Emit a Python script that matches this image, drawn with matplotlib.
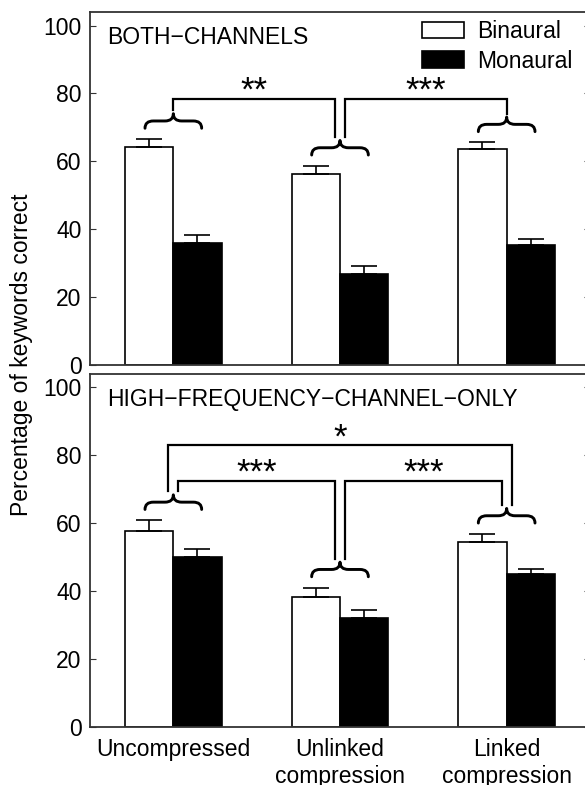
import numpy as np
import matplotlib
matplotlib.use("Agg")
import matplotlib.pyplot as plt
from matplotlib.path import Path
from matplotlib.patches import PathPatch

plt.rcParams['font.family'] = ['Liberation Sans', 'DejaVu Sans']
plt.rcParams['font.size'] = 16.5

# data
conditions = ['Uncompressed', 'Unlinked\ncompression', 'Linked\ncompression']
both_bin = [64.1, 56.3, 63.5]
both_bin_err = [2.4, 2.3, 2.0]
both_mon = [35.9, 26.7, 35.3]
both_mon_err = [2.2, 2.3, 1.8]
hf_bin = [57.8, 38.3, 54.4]
hf_bin_err = [3.0, 2.7, 2.4]
hf_mon = [49.9, 32.2, 44.9]
hf_mon_err = [2.5, 2.1, 1.7]

# significance brackets: (group a, group b, bracket height, stars)
both_sig = [(0, 1, 78.4, '**'), (1, 2, 78.4, '***')]
hf_sig = [(0, 2, 82.9, '*'), (0, 1, 72.4, '***'), (1, 2, 72.4, '***')]

x = np.arange(len(conditions))
w = 0.29


def brace(ax, xc, y0, half=0.17, r=0.05, h=4.3):
    ym = y0 + h * 0.5
    yt = y0 + h
    x0, x1 = xc - half, xc + half
    verts = [(x0, y0), (x0, ym), (x0 + r, ym), (xc - r, ym), (xc, ym), (xc, yt),
             (xc, ym), (xc + r, ym), (x1 - r, ym), (x1, ym), (x1, y0)]
    codes = [Path.MOVETO, Path.CURVE3, Path.CURVE3, Path.LINETO, Path.CURVE3, Path.CURVE3,
             Path.CURVE3, Path.CURVE3, Path.LINETO, Path.CURVE3, Path.CURVE3]
    ax.add_patch(PathPatch(Path(verts, codes), fill=False, lw=2.1, color='black',
                           capstyle='round', joinstyle='round'))
    return yt


def panel(ax, b, be, m, me, sig, title):
    ax.bar(x - w / 2, b, w, color='white', edgecolor='black', lw=1.2, label='Binaural')
    ax.bar(x + w / 2, m, w, color='black', edgecolor='black', lw=1.2, label='Monaural')
    ax.errorbar(x - w / 2, b, yerr=[np.zeros(3), be], fmt='none', ecolor='black',
                elinewidth=1.2, capsize=9.5, capthick=1.2)
    ax.errorbar(x + w / 2, m, yerr=[np.zeros(3), me], fmt='none', ecolor='black',
                elinewidth=1.2, capsize=9.5, capthick=1.2)
    tops = np.maximum(np.array(b) + be, np.array(m) + me)
    tips = [brace(ax, x[i], tops[i] + 3.2) for i in range(len(x))]

    # where the bracket legs sit on each group
    attach = {}
    for g in range(len(x)):
        partners = [(a if b_ == g else b_) for a, b_, _, _ in sig if g in (a, b_)]
        partners.sort(key=lambda p: 1.0 / (p - g))
        offs = [0.0] if len(partners) == 1 else [-0.03, 0.03]
        for p, o in zip(partners, offs):
            attach[(g, p)] = x[g] + o
    for a, c, lev, stars in sig:
        xa, xb = attach[(a, c)], attach[(c, a)]
        ax.plot([xa, xa, xb, xb], [tips[a] + 1.0, lev, lev, tips[c] + 1.0],
                color='black', lw=1.6, solid_joinstyle='miter')
        ax.text((xa + xb) / 2, lev - 0.6, stars, ha='center', va='baseline', fontsize=25)

    ax.set_xlim(-0.5, 2.5)
    ax.set_ylim(0, 104)
    ax.set_yticks([0, 20, 40, 60, 80, 100])
    ax.tick_params(axis='y', direction='in', length=4, right=True, pad=6, color='#333333')
    ax.tick_params(axis='x', length=0)
    for s in ax.spines.values():
        s.set_linewidth(1.3)
        s.set_color('#333333')
    ax.text(0.034, 0.908, title, transform=ax.transAxes, ha='left', va='baseline')


fig = plt.figure(figsize=(5.85, 7.85), dpi=100)
ax1 = fig.add_axes([90 / 585, 1 - 364.5 / 785, 500 / 585, 352.5 / 785])
ax2 = fig.add_axes([90 / 585, 1 - 727 / 785, 500 / 585, 353.5 / 785])

panel(ax1, both_bin, both_bin_err, both_mon, both_mon_err, both_sig, 'BOTH\u2212CHANNELS')
panel(ax2, hf_bin, hf_bin_err, hf_mon, hf_mon_err, hf_sig, 'HIGH\u2212FREQUENCY\u2212CHANNEL\u2212ONLY')

ax1.set_xticks(x)
ax1.set_xticklabels([])
ax2.set_xticks(x)
ax2.set_xticklabels(conditions, linespacing=1.2)
ax2.tick_params(axis='x', pad=8)

ax1.legend(loc='upper left', bbox_to_anchor=(0.663, 0.978), frameon=False,
           handlelength=1.87, handleheight=0.72, handletextpad=0.55,
           labelspacing=0.3, borderpad=0, borderaxespad=0)

fig.text(22 / 585, 1 - 355 / 785, 'Percentage of keywords correct', rotation=90,
         ha='center', va='center')

fig.savefig('out.png', dpi=100)
